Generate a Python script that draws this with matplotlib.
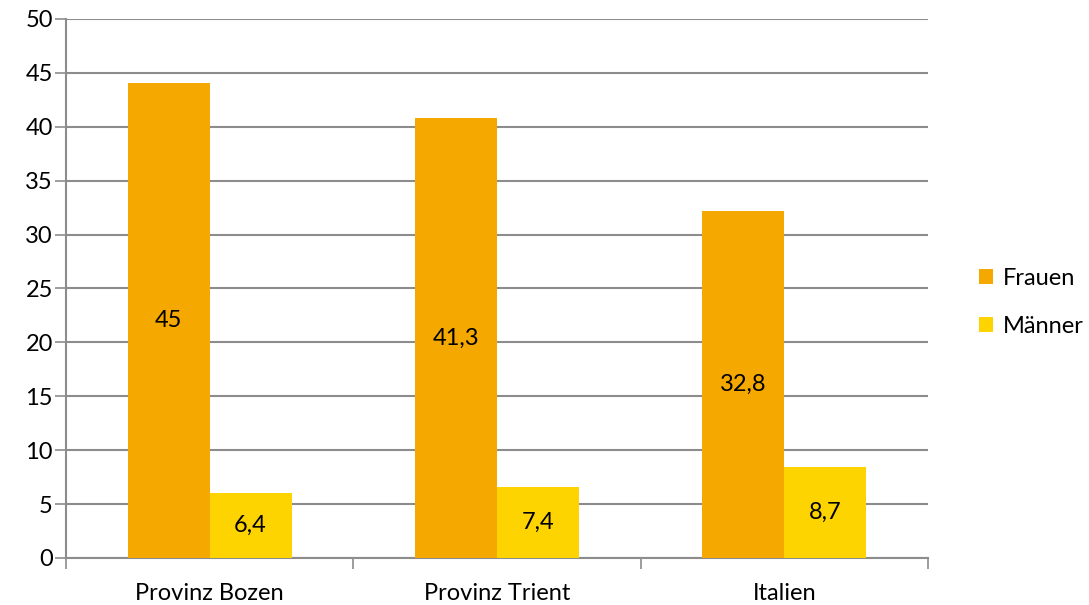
import numpy as np
import matplotlib.pyplot as plt

categories = ["Provinz Bozen", "Provinz Trient", "Italien"]
series = ["Frauen", "Männer"]
# bar heights as drawn in the reference, and the labels printed on them
frauen_heights = [44.1, 40.8, 32.2]
maenner_heights = [6.0, 6.6, 8.4]
frauen_labels = ["45", "41,3", "32,8"]
maenner_labels = ["6,4", "7,4", "8,7"]
colors = ["#F5A800", "#FDD400"]

plt.rcParams["font.family"] = ["Lato", "DejaVu Sans"]
fs = 17

fig = plt.figure(figsize=(10.89, 6.05), dpi=100)
ax = fig.add_axes([0.0606, 0.0777, 0.7916, 0.8909])

x = np.arange(len(categories))
w = 0.285
grid_c = "#8C8C8C"

for heights, labels, color, name, off in [
    (frauen_heights, frauen_labels, colors[0], series[0], -w / 2),
    (maenner_heights, maenner_labels, colors[1], series[1], w / 2),
]:
    bars = ax.bar(x + off, heights, w, color=color, label=name, zorder=3)
    ax.bar_label(bars, labels=labels, label_type="center", fontsize=fs, color="black")

ax.set_xlim(-0.5, len(categories) - 0.5)
ax.set_ylim(0, 50)
ax.set_yticks(np.arange(0, 51, 5))
ax.yaxis.grid(True, color=grid_c, linewidth=1.5, zorder=0)
ax.set_axisbelow(True)

ax.set_xticks(x)
ax.set_xticklabels(categories, fontsize=fs)
ax.set_xticks(np.arange(-0.5, len(categories)), minor=True)
ax.tick_params(axis="x", which="major", length=0, pad=18)
ax.tick_params(axis="x", which="minor", length=8, width=1.2, color=grid_c)
ax.tick_params(axis="y", length=8, width=1.2, color=grid_c, labelsize=fs, pad=1.5)

for s in ["top", "right"]:
    ax.spines[s].set_visible(False)
for s in ["left", "bottom"]:
    ax.spines[s].set_color(grid_c)
    ax.spines[s].set_linewidth(1.5)

ax.legend(loc="center left", bbox_to_anchor=(1.048, 0.474), frameon=False,
          fontsize=fs, handlelength=0.6, handleheight=0.6, labelspacing=1.15,
          handletextpad=0.4, borderaxespad=0)

fig.savefig("out.png", dpi=100)
